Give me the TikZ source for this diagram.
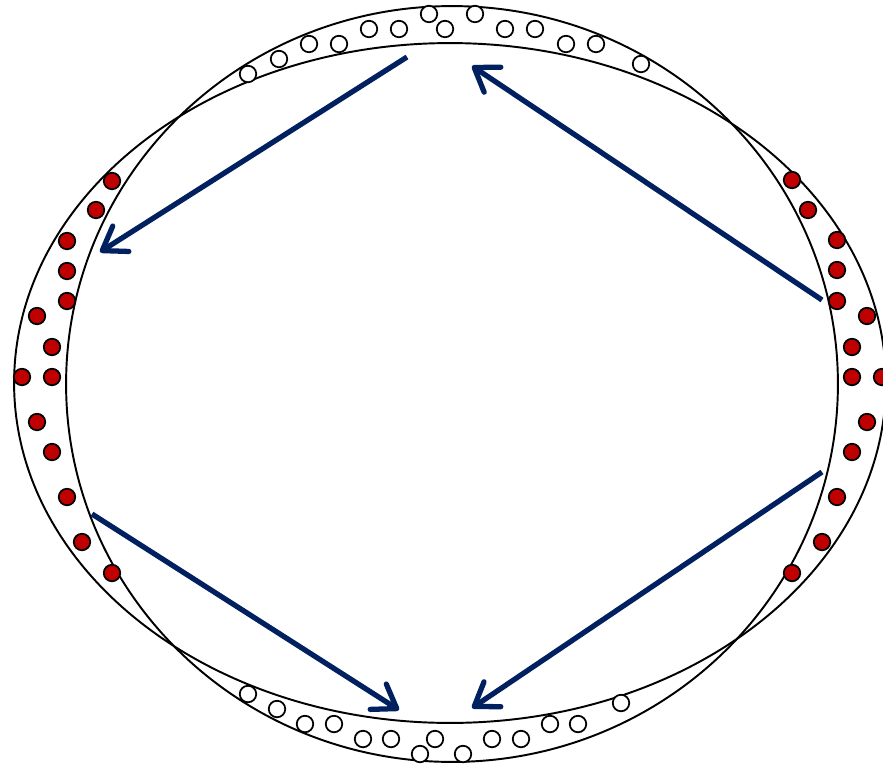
\documentclass[tikz,border=0pt]{standalone}
\usepackage{xcolor}
\usepackage{tikz}
\usetikzlibrary{arrows.meta}
\definecolor{flownavy}{HTML}{002060}
\definecolor{dotred}{HTML}{C00000}

\begin{document}
\begin{tikzpicture}[
  x=0.02cm, y=-0.02cm,
  ring/.style={line width=1.1pt},
  hotdot/.style={circle, draw, fill=dotred, line width=1pt, minimum size=0.33cm, inner sep=0pt},
  colddot/.style={circle, draw, fill=white, line width=1pt, minimum size=0.33cm, inner sep=0pt},
  flow/.style={-{Straight Barb[length=4.4mm, width=6mm, round]}, line width=3pt, draw=flownavy}
]
\useasboundingbox (0,0) rectangle (883,765);

% the two boundaries
\draw[ring] (450,383) ellipse [x radius=8.72cm, y radius=6.8cm];
\draw[ring] (452,384) ellipse [x radius=7.72cm, y radius=7.56cm];

% hot particles, left and right
\foreach \p [count=\i] in {(112,181),(96,210),(67,241),(67,271),(67,301),(37,316),(52,347),
  (22,377),(52,377),(37,422),(52,452),(67,497),(82,542),(112,573)}
  \node[hotdot] (hl\i) at \p {};
\foreach \p [count=\i] in {(792,180),(808,210),(837,240),(837,270),(837,301),(867,316),(852,347),
  (852,377),(882,377),(867,422),(852,452),(837,497),(822,542),(792,573)}
  \node[hotdot] (hr\i) at \p {};

% cold particles, top and bottom
\foreach \p [count=\i] in {(248,74),(279,59),(309,44),(339,44),(369,29),(399,29),(429,14),
  (445,29),(475,14),(505,29),(535,29),(566,44),(596,44),(641,64)}
  \node[colddot] (ct\i) at \p {};
\foreach \p [count=\i] in {(248,694),(277,709),(305,724),(334,724),(363,739),(391,739),(435,739),
  (420,754),(463,754),(492,739),(521,739),(550,724),(578,724),(621,703)}
  \node[colddot] (cb\i) at \p {};

% flow directions
\coordinate (topL) at (407,57);
\coordinate (topR) at (472,66);
\coordinate (midL) at (100,252);
\coordinate (midR) at (822,300);
\coordinate (lowL) at (92,514);
\coordinate (lowR) at (822,472);
\coordinate (botL) at (399,710);
\coordinate (botR) at (472,708);

\draw[flow] (topL)--(midL);
\draw[flow] (midR)--(topR);
\draw[flow] (lowL)--(botL);
\draw[flow] (lowR)--(botR);
\end{tikzpicture}
\end{document}
